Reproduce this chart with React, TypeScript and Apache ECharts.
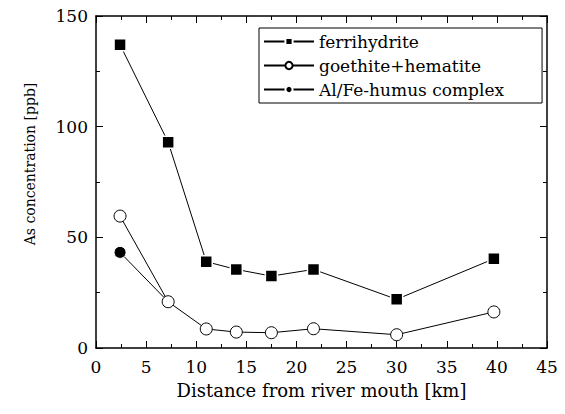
import React, { useEffect, useRef } from "react";
import * as echarts from "echarts";

const ferrihydrite: [number, number][] = [
  [2.4, 137], [7.2, 93], [11, 39], [14, 35.5], [17.5, 32.5], [21.7, 35.5], [30, 22], [39.7, 40.3],
];
const goethite: [number, number][] = [
  [2.4, 59.6], [7.2, 20.9], [11, 8.6], [14, 7.2], [17.5, 6.9], [21.7, 8.7], [30, 6.0], [39.7, 16.3],
];
const humus: [number, number][] = [
  [2.4, 43.2], [7.2, 20.9],
];
const seriesNames = ["ferrihydrite", "goethite+hematite", "Al/Fe-humus complex"];
const xTitle = "Distance from river mouth [km]";
const yTitle = "As concentration [ppb]";

const FONT = "DejaVu Serif";

export default function App() {
  const ref = useRef<HTMLDivElement>(null);
  useEffect(() => {
    if (!ref.current) return;
    const chart = echarts.init(ref.current, null, { renderer: "svg" });
    const axisCommon = {
      axisLine: { show: true, onZero: false, lineStyle: { color: "#000", width: 1.5 } },
      axisTick: { show: true, inside: true, length: 7, lineStyle: { color: "#000" } },
      minorTick: { show: true, splitNumber: 2, length: 4, lineStyle: { color: "#000" } },
      splitLine: { show: false },
    };
    chart.setOption({
      animation: false,
      backgroundColor: "#fff",
      textStyle: { fontFamily: FONT },
      grid: { left: 96, right: 18, top: 16, bottom: 66 },
      legend: {
        show: true,
        data: seriesNames,
        orient: "vertical",
        left: 259,
        top: 28,
        itemWidth: 50,
        itemHeight: 9,
        itemGap: 7,
        padding: [5, 38, 5, 4],
        borderColor: "#000",
        borderWidth: 1,
        textStyle: { fontFamily: FONT, fontSize: 17, color: "#000", padding: [0, 0, 0, 0] },
      },
      graphic: [
        {
          type: "text",
          x: 30,
          y: 164,
          rotation: Math.PI / 2,
          style: {
            text: yTitle,
            fill: "#000",
            font: "14px DejaVu Serif",
            align: "center",
            verticalAlign: "middle",
          },
        },
      ],
      xAxis: [
        {
          type: "value", min: 0, max: 45, interval: 5, position: "bottom",
          ...axisCommon,
          axisLabel: { color: "#000", fontSize: 17, fontFamily: FONT, margin: 10 },
          name: xTitle, nameLocation: "middle", nameGap: 33,
          nameTextStyle: { color: "#000", fontSize: 18, fontFamily: FONT },
        },
        {
          type: "value", min: 0, max: 45, interval: 5, position: "top",
          ...axisCommon,
          axisLabel: { show: false },
        },
      ],
      yAxis: [
        {
          type: "value", min: 0, max: 150, interval: 50, position: "left",
          ...axisCommon,
          axisLabel: { color: "#000", fontSize: 17, fontFamily: FONT, margin: 8 },
        },
        {
          type: "value", min: 0, max: 150, interval: 50, position: "right",
          ...axisCommon,
          axisLabel: { show: false },
        },
      ],
      series: [
        {
          name: seriesNames[0], type: "line", data: ferrihydrite,
          symbol: "rect", symbolSize: 12, z: 3,
          lineStyle: { color: "#000", width: 1 },
          itemStyle: { color: "#000", borderColor: "#fff", borderWidth: 1.5 },
        },
        {
          name: seriesNames[1], type: "line", data: goethite,
          symbol: "circle", symbolSize: 12, z: 4,
          lineStyle: { color: "#000", width: 1 },
          itemStyle: { color: "#fff", borderColor: "#000", borderWidth: 1 },
        },
        {
          name: seriesNames[2], type: "line", data: humus,
          symbol: "circle", symbolSize: 12, z: 2,
          lineStyle: { color: "#000", width: 1 },
          itemStyle: { color: "#000", borderColor: "#fff", borderWidth: 1 },
        },
      ],
    });
    return () => chart.dispose();
  }, []);
  return <div ref={ref} style={{ width: 565, height: 414, margin: -8 }} />;
}
